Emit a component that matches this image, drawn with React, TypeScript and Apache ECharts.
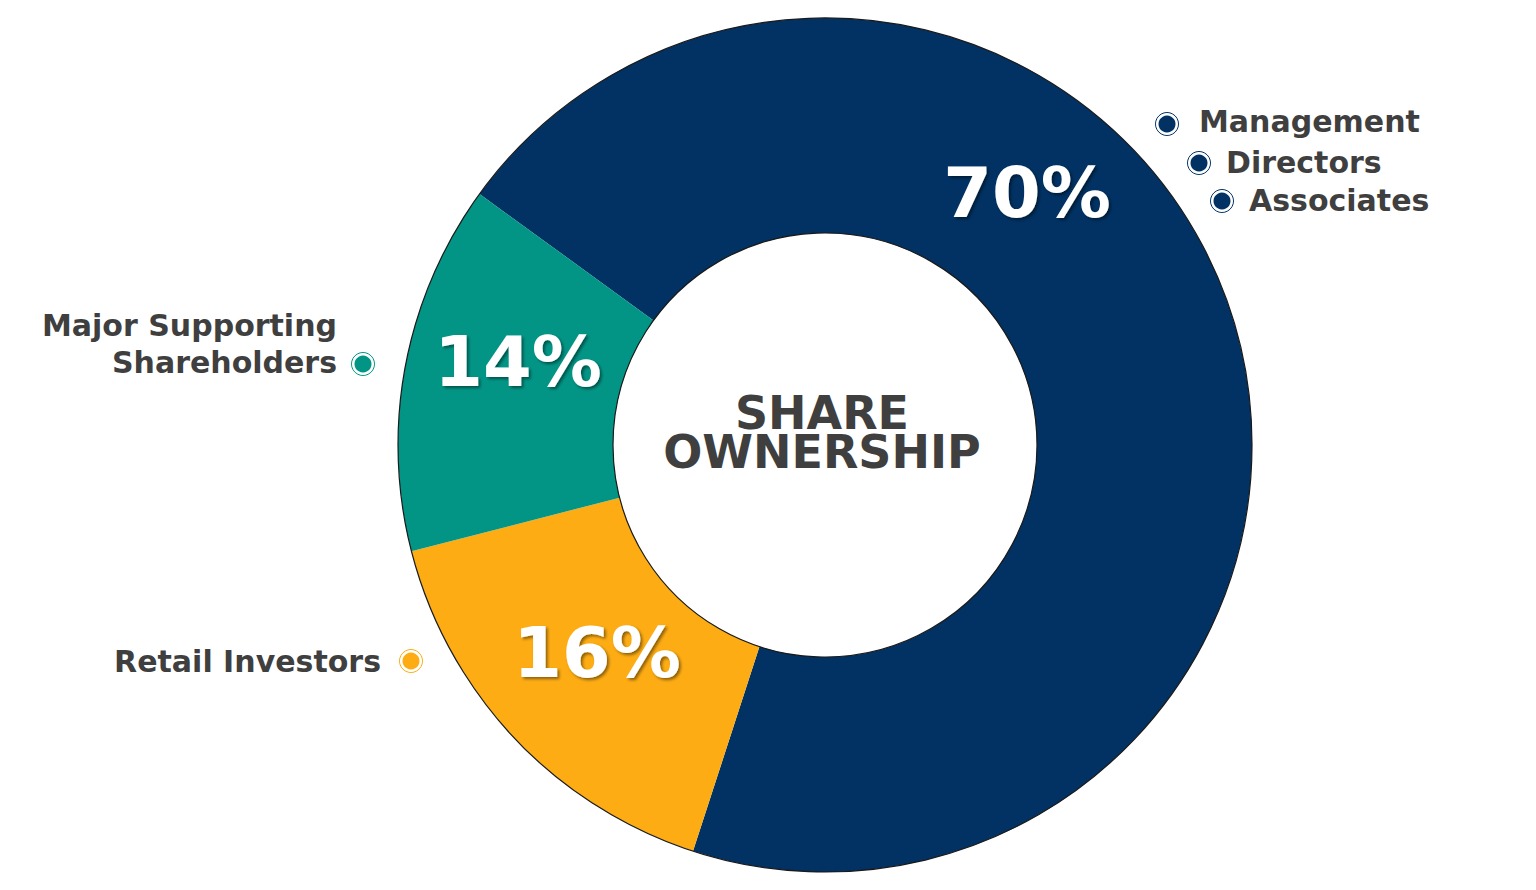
import React, { useEffect, useRef } from "react";
import * as echarts from "echarts";

const categories = ["Management, Directors & Associates", "Retail Investors", "Major Supporting Shareholders"];
const values = [70, 16, 14];
const colors = ["#013263", "#FDAC13", "#029585"];
const centerLines = ["SHARE", "OWNERSHIP"];
const navyLegendLines = ["Management", "Directors", "Associates"];
const tealLegendLines = ["Major Supporting", "Shareholders"];
const orangeLegendLines = ["Retail Investors"];

const CX = 825;
const CY = 445;
const R_IN = 212;
const R_OUT = 427;
const labelPos = [
  [1027, 193],
  [597, 653],
  [518, 362],
];
const TEXT_COLOR = "#3f3f3f";
const LEG_FONT = "DejaVu Sans";

function dot(x: number, y: number, color: string) {
  return [
    { type: "circle", shape: { cx: x, cy: y, r: 11.5 }, style: { fill: "none", stroke: color, lineWidth: 1 }, z: 10 },
    { type: "circle", shape: { cx: x, cy: y, r: 9.5 }, style: { fill: color, stroke: "#ffffff", lineWidth: 2 }, z: 10 },
  ];
}

function legText(text: string, x: number, y: number, align: string) {
  return {
    type: "text",
    x,
    y,
    z: 10,
    style: {
      text,
      fill: TEXT_COLOR,
      font: `bold 30px "${LEG_FONT}"`,
      align,
      verticalAlign: "middle",
    },
  };
}

export default function App() {
  const ref = useRef<HTMLDivElement>(null);
  useEffect(() => {
    if (!ref.current) return;
    const chart = echarts.init(ref.current, null, { renderer: "svg" });
    const graphic: any[] = [
      { type: "circle", shape: { cx: CX, cy: CY, r: R_OUT }, style: { fill: "none", stroke: "#1a1a1a", lineWidth: 1.2 }, z: 5, silent: true },
      { type: "circle", shape: { cx: CX, cy: CY, r: R_IN }, style: { fill: "none", stroke: "#1a1a1a", lineWidth: 1.2 }, z: 5, silent: true },
      {
        type: "text",
        x: CX - 3,
        y: 432,
        z: 10,
        style: {
          text: centerLines.join("\n"),
          fill: TEXT_COLOR,
          font: 'bold 46px "DejaVu Sans"',
          lineHeight: 39,
          align: "center",
          verticalAlign: "middle",
        },
      },
      ...dot(1167, 124, colors[0]),
      legText(navyLegendLines[0], 1199, 121, "left"),
      ...dot(1199, 163, colors[0]),
      legText(navyLegendLines[1], 1226, 162, "left"),
      ...dot(1222, 201, colors[0]),
      legText(navyLegendLines[2], 1249, 200, "left"),
      legText(tealLegendLines[0], 337, 325, "right"),
      legText(tealLegendLines[1], 337, 362, "right"),
      ...dot(363, 364, colors[2]),
      legText(orangeLegendLines[0], 381, 661, "right"),
      ...dot(411, 661, colors[1]),
    ];
    chart.setOption({
      animation: false,
      backgroundColor: "#ffffff",
      series: [
        {
          type: "pie",
          center: [CX, CY],
          radius: [R_IN, R_OUT],
          startAngle: 144,
          clockwise: true,
          silent: true,
          data: categories.map((name, i) => ({ name, value: values[i], itemStyle: { color: colors[i] } })),
          itemStyle: { borderWidth: 0 },
          labelLine: { show: false },
          label: {
            show: true,
            position: "inside",
            formatter: "{c}%",
            color: "#ffffff",
            fontFamily: "DejaVu Sans",
            fontWeight: "bold",
            fontSize: 70,
            textShadowColor: "rgba(0,0,0,0.45)",
            textShadowBlur: 3,
            textShadowOffsetX: 2,
            textShadowOffsetY: 2,
          },
          labelLayout: (params: any) => ({
            x: labelPos[params.dataIndex][0],
            y: labelPos[params.dataIndex][1],
            align: "center",
            verticalAlign: "middle",
          }),
        },
      ],
      graphic,
    });
    return () => chart.dispose();
  }, []);
  return <div ref={ref} style={{ position: "fixed", left: 0, top: 0, width: 1536, height: 890 }} />;
}
